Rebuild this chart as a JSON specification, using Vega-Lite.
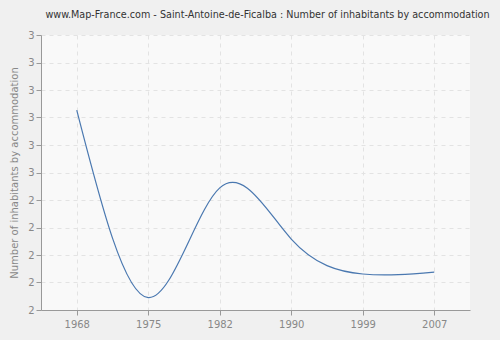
{
  "$schema": "https://vega.github.io/schema/vega-lite/v6.json",
  "autosize": "none",
  "width": 429,
  "height": 275,
  "padding": {"left": 41, "top": 35, "right": 30, "bottom": 30},
  "background": "#f0f0f0",
  "title": {
    "text": "www.Map-France.com - Saint-Antoine-de-Ficalba : Number of inhabitants by accommodation",
    "fontSize": 10.7,
    "font": "DejaVu Sans Condensed, Liberation Sans",
    "fontWeight": "normal",
    "color": "#333333",
    "anchor": "middle",
    "dx": 12,
    "offset": 9
  },
  "config": {
    "view": {"stroke": null, "fill": "#f9f9f9"},
    "axis": {
      "labelFont": "DejaVu Sans",
      "titleFont": "DejaVu Sans",
      "labelColor": "#888888",
      "titleColor": "#888888",
      "labelFontSize": 10,
      "titleFontSize": 10,
      "titleFontWeight": "normal",
      "domainColor": "#999999",
      "tickColor": "#999999",
      "gridColor": "#e3e3e3",
      "gridDash": [4, 4],
      "tickSize": 5
    }
  },
  "data": {
    "values": [
      {"year": "1968", "value": 2.727},
      {"year": "1975", "value": 2.045},
      {"year": "1982", "value": 2.444},
      {"year": "1990", "value": 2.258},
      {"year": "1999", "value": 2.131},
      {"year": "2007", "value": 2.138}
    ]
  },
  "mark": {"type": "line", "interpolate": "natural", "color": "#4a78b0", "strokeWidth": 1.2},
  "encoding": {
    "x": {
      "field": "year",
      "type": "ordinal",
      "scale": {"type": "point", "padding": 0.5},
      "axis": {"title": null, "labelAngle": 0, "grid": true, "labelPadding": 4}
    },
    "y": {
      "field": "value",
      "type": "quantitative",
      "scale": {"domain": [2, 3], "nice": false, "zero": false},
      "axis": {
        "title": "Number of inhabitants by accommodation",
        "values": [2, 2.1, 2.2, 2.3, 2.4, 2.5, 2.6, 2.7, 2.8, 2.9, 3],
        "format": ".0f",
        "grid": true,
        "titlePadding": 8
      }
    }
  }
}
